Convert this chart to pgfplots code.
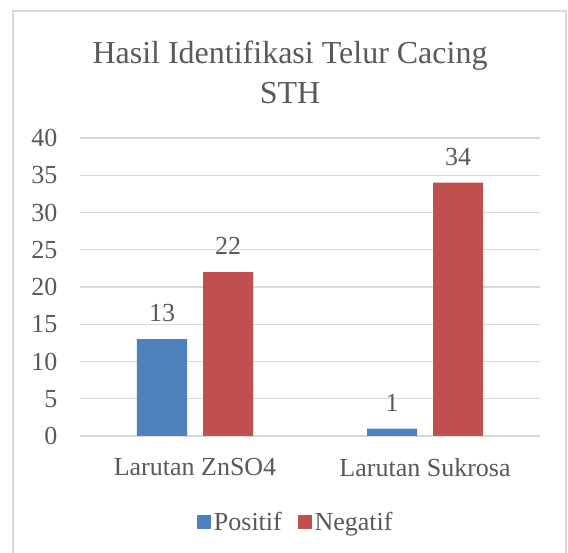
\documentclass[border=0pt]{standalone}
\usepackage{pgfplots}
\pgfplotsset{compat=1.18}
\usepackage{fontspec}
\setmainfont{Liberation Serif}
\definecolor{txt}{HTML}{595959}
\definecolor{gridc}{HTML}{D9D9D9}
\definecolor{framec}{HTML}{D9D9D9}
\definecolor{bblue}{HTML}{4F81BD}
\definecolor{bred}{HTML}{C0504D}
\begin{document}
\begin{tikzpicture}[x=0.75pt,y=0.75pt]
\useasboundingbox (0,0) rectangle (568,553);
\draw[framec,line width=1.5pt] (13,0) -- (13,542) -- (566,542) -- (566,0);
\node[align=center,text=txt,font=\fontsize{24}{30}\selectfont] at (290,481) {Hasil Identifikasi Telur Cacing\\STH};
\begin{axis}[
  at={(60pt,87.75pt)}, anchor=south west,
  scale only axis, width=345pt, height=223.5pt,
  ymin=0, ymax=40, ytick={0,5,...,40},
  xmin=-0.5, xmax=1.5, xtick={0,1},
  xticklabels={Larutan ZnSO4,Larutan Sukrosa},
  ybar=12pt, bar width=37.5pt,
  axis y line*=left, axis x line*=bottom,
  y axis line style={draw=none},
  x axis line style={draw=gridc, line width=0.8pt},
  ymajorgrids, grid style={draw=gridc, line width=0.8pt},
  major tick length=0pt,
  tick label style={text=txt, font=\fontsize{19.5}{20}\selectfont},
  /pgf/number format/assume math mode=true,
  yticklabel style={xshift=-13.5pt},
  xticklabel style={yshift=-13pt},
  nodes near coords,
  nodes near coords style={text=txt, font=\fontsize{19.5}{20}\selectfont, yshift=9.5pt},
  legend style={at={(0.47,-0.29)}, anchor=center, draw=none, legend columns=2,
    font=\fontsize{19.5}{20}\selectfont, text=txt,
    /tikz/every even column/.append style={column sep=10pt}},
  legend image code/.code={\fill[#1] (0pt,-5pt) rectangle (10.5pt,5.5pt);},
]
\addplot[fill=bblue, draw=none] coordinates {(0,13) (1,1)};
\addplot[fill=bred, draw=none] coordinates {(0,22) (1,34)};
\legend{Positif,Negatif}
\end{axis}
\end{tikzpicture}
\end{document}
